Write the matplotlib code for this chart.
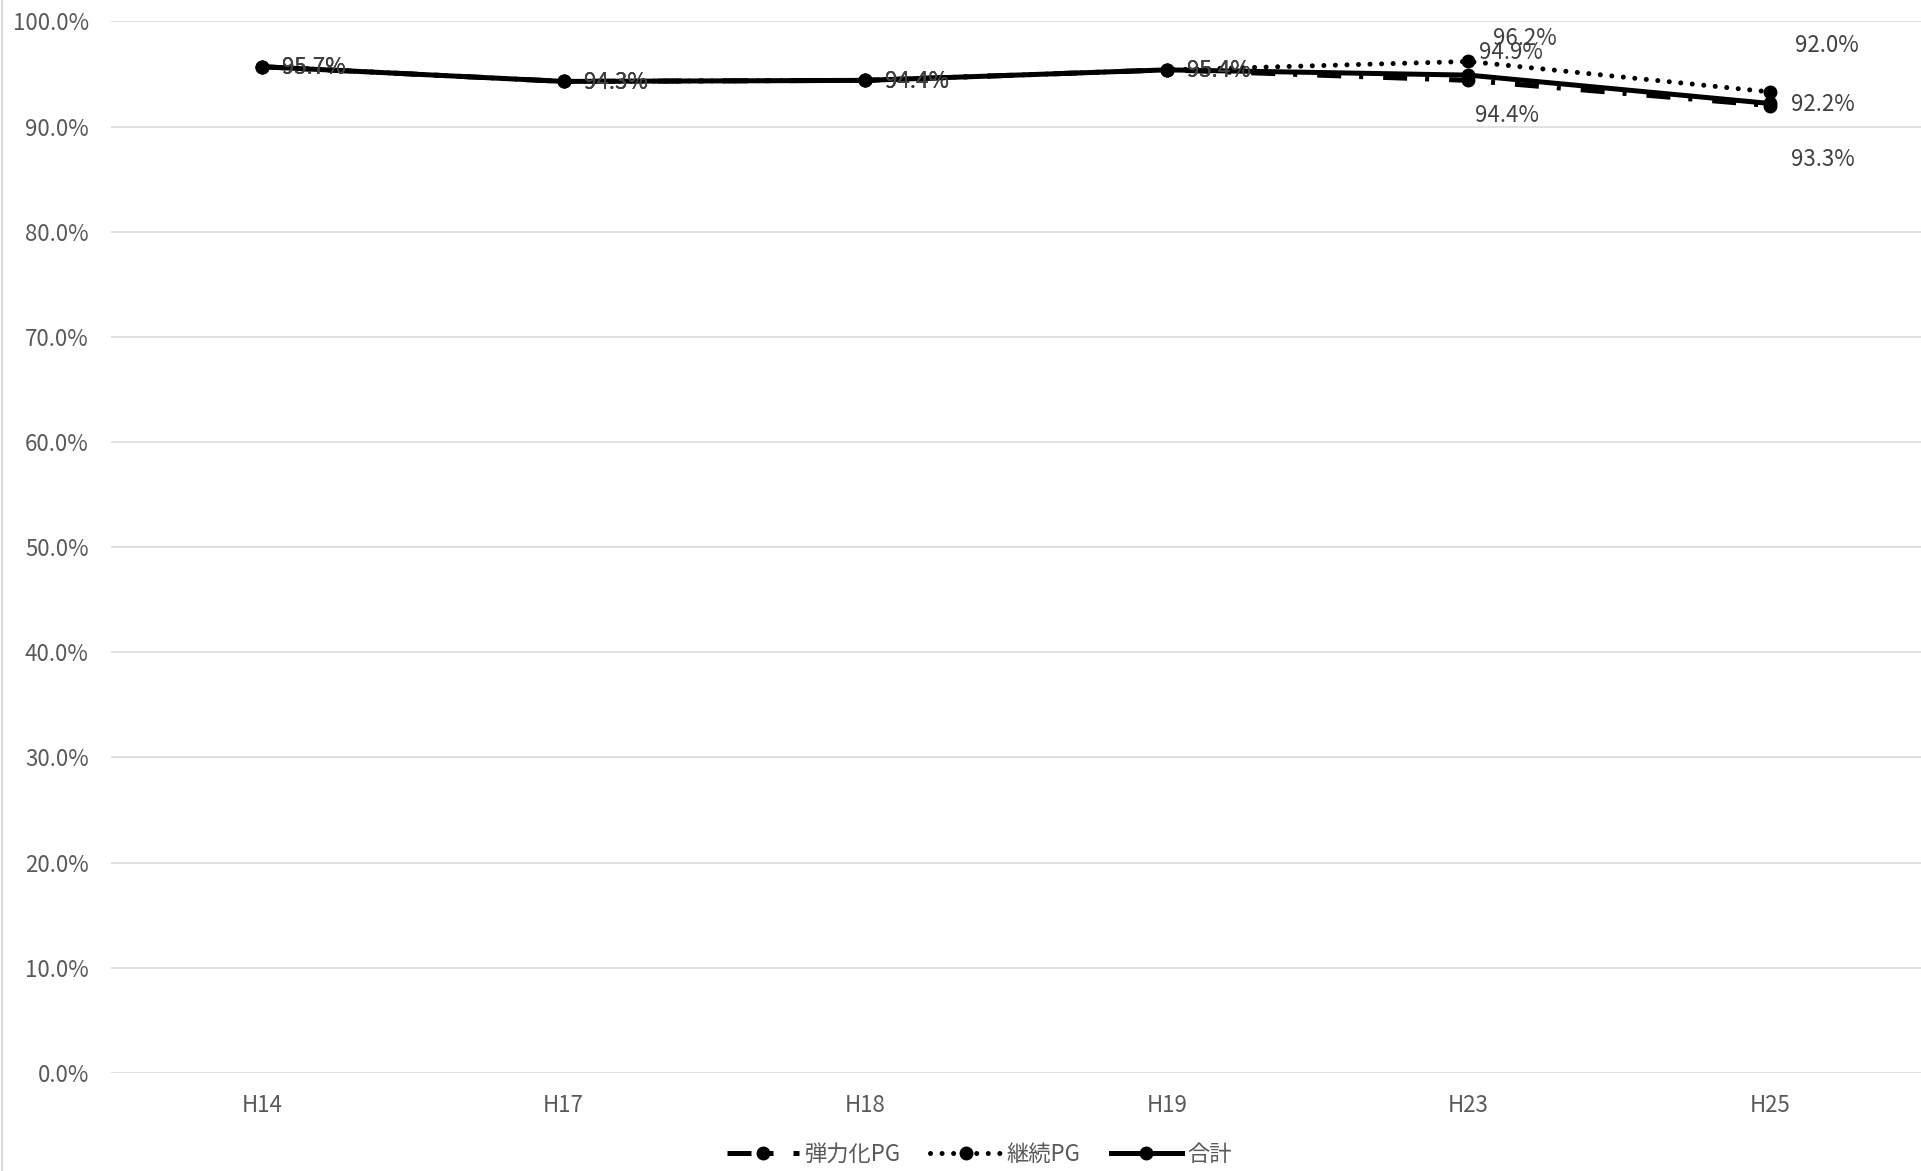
import matplotlib
matplotlib.use("Agg")
import matplotlib.pyplot as plt
from matplotlib.lines import Line2D
from matplotlib.ticker import FuncFormatter

plt.rcParams["font.family"] = ["Noto Sans CJK JP", "DejaVu Sans"]

categories = ["H14", "H17", "H18", "H19", "H23", "H25"]
danryoku = [95.7, 94.3, 94.4, 95.4, 94.4, 92.0]   # 弾力化PG
keizoku = [95.7, 94.3, 94.4, 95.4, 96.2, 93.3]    # 継続PG
goukei = [95.7, 94.3, 94.4, 95.4, 94.9, 92.2]     # 合計
y_ticks = [0, 10, 20, 30, 40, 50, 60, 70, 80, 90, 100]

# data label offsets in pixels (dx, dy with y up)
right = (52, -1)
off_danryoku = [right, right, right, right, (39, -35), (57, 60)]
off_keizoku = [right, right, right, right, (56, 23), (53, -68)]
off_goukei = [right, right, right, right, (42, 23), (53, -1)]

fig = plt.figure(figsize=(19.21, 11.71), dpi=100)
ax = fig.add_axes([111 / 1921, 0.0839, 1 - 111 / 1921, 0.98164 - 0.0839])

x = list(range(len(categories)))
lw = 3.6
ax.plot(x, danryoku, color="black", lw=lw, marker="o", ms=9,
        linestyle=(0, (4.8, 3.6, 0.8, 4.0)), label="弾力化PG", zorder=3)
ax.plot(x, keizoku, color="black", lw=lw, marker="o", ms=9,
        linestyle=(0, (0.01, 2.3)), dash_capstyle="round", label="継続PG", zorder=4)
ax.plot(x, goukei, color="black", lw=lw, marker="o", ms=9,
        linestyle="-", label="合計", zorder=5)

for vals, offs in [(danryoku, off_danryoku), (keizoku, off_keizoku), (goukei, off_goukei)]:
    for i, v in enumerate(vals):
        ax.annotate(f"{v:.1f}%", (i, v), xytext=offs[i], textcoords="offset pixels",
                    ha="center", va="center", fontsize=16, color="#404040", zorder=6)

ax.set_xlim(-0.5, len(categories) - 0.5)
ax.set_ylim(0, 100)
ax.set_yticks(y_ticks)
ax.yaxis.set_major_formatter(FuncFormatter(lambda v, p: f"{v:.1f}%"))
ax.set_xticks(x)
ax.set_xticklabels(categories)
ax.tick_params(axis="both", length=0, labelsize=16, labelcolor="#595959")
ax.tick_params(axis="y", pad=16)
ax.tick_params(axis="x", pad=15)
ax.yaxis.grid(True, color="#d9d9d9", lw=1.1)
ax.set_axisbelow(True)
for s in ax.spines.values():
    s.set_visible(False)

fig.add_artist(Line2D([0.0008, 0.0008], [0, 1], color="#d9d9d9", lw=1.5,
                      transform=fig.transFigure))

leg = fig.legend(loc="center", bbox_to_anchor=(0.510, 0.0145), ncol=3, frameon=False,
                 handlelength=3.2, handletextpad=0.25, columnspacing=1.35, fontsize=16,
                 numpoints=1)
for t in leg.get_texts():
    t.set_color("#595959")

fig.savefig("out.png", dpi=100)
